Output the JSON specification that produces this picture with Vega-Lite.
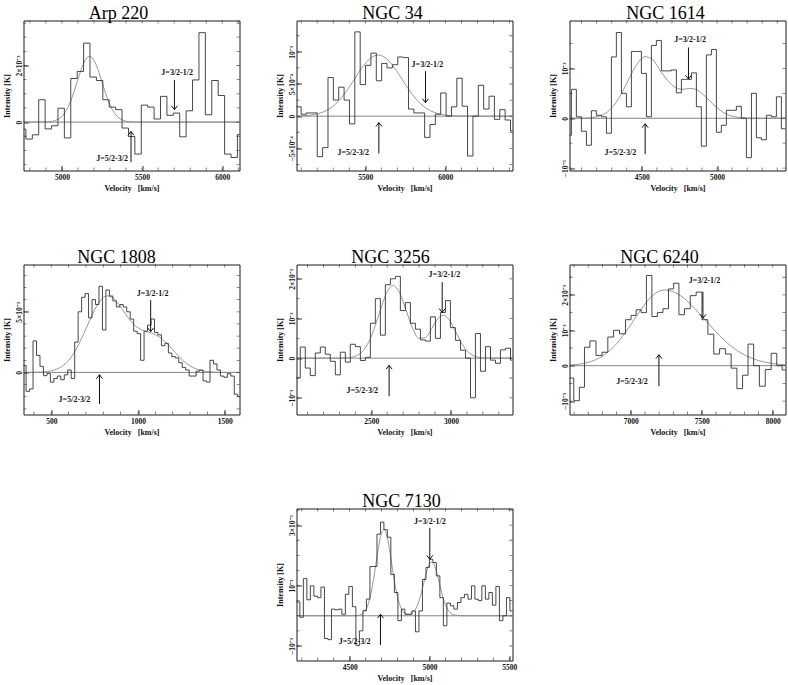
{
"$schema": "https://vega.github.io/schema/vega-lite/v6.json",
"background": "white",
"padding": {"left": 2.5, "top": 3.5, "right": 2, "bottom": 0},
"bounds": "flush",
"columns": 3,
"spacing": {"row": 94, "column": 57},
"datasets": {
"xticks": [
{"galaxy":"Arp 220","v":4800},{"galaxy":"Arp 220","v":4900},{"galaxy":"Arp 220","v":5000},{"galaxy":"Arp 220","v":5100},{"galaxy":"Arp 220","v":5200},{"galaxy":"Arp 220","v":5300},{"galaxy":"Arp 220","v":5400},{"galaxy":"Arp 220","v":5500},{"galaxy":"Arp 220","v":5600},{"galaxy":"Arp 220","v":5700},{"galaxy":"Arp 220","v":5800},{"galaxy":"Arp 220","v":5900},{"galaxy":"Arp 220","v":6000},{"galaxy":"Arp 220","v":6100},
{"galaxy":"NGC 34","v":5100},{"galaxy":"NGC 34","v":5200},{"galaxy":"NGC 34","v":5300},{"galaxy":"NGC 34","v":5400},{"galaxy":"NGC 34","v":5500},{"galaxy":"NGC 34","v":5600},{"galaxy":"NGC 34","v":5700},{"galaxy":"NGC 34","v":5800},{"galaxy":"NGC 34","v":5900},{"galaxy":"NGC 34","v":6000},{"galaxy":"NGC 34","v":6100},{"galaxy":"NGC 34","v":6200},{"galaxy":"NGC 34","v":6300},{"galaxy":"NGC 34","v":6400},
{"galaxy":"NGC 1614","v":4100},{"galaxy":"NGC 1614","v":4200},{"galaxy":"NGC 1614","v":4300},{"galaxy":"NGC 1614","v":4400},{"galaxy":"NGC 1614","v":4500},{"galaxy":"NGC 1614","v":4600},{"galaxy":"NGC 1614","v":4700},{"galaxy":"NGC 1614","v":4800},{"galaxy":"NGC 1614","v":4900},{"galaxy":"NGC 1614","v":5000},{"galaxy":"NGC 1614","v":5100},{"galaxy":"NGC 1614","v":5200},{"galaxy":"NGC 1614","v":5300},{"galaxy":"NGC 1614","v":5400},
{"galaxy":"NGC 1808","v":400},{"galaxy":"NGC 1808","v":500},{"galaxy":"NGC 1808","v":600},{"galaxy":"NGC 1808","v":700},{"galaxy":"NGC 1808","v":800},{"galaxy":"NGC 1808","v":900},{"galaxy":"NGC 1808","v":1000},{"galaxy":"NGC 1808","v":1100},{"galaxy":"NGC 1808","v":1200},{"galaxy":"NGC 1808","v":1300},{"galaxy":"NGC 1808","v":1400},{"galaxy":"NGC 1808","v":1500},
{"galaxy":"NGC 3256","v":2100},{"galaxy":"NGC 3256","v":2200},{"galaxy":"NGC 3256","v":2300},{"galaxy":"NGC 3256","v":2400},{"galaxy":"NGC 3256","v":2500},{"galaxy":"NGC 3256","v":2600},{"galaxy":"NGC 3256","v":2700},{"galaxy":"NGC 3256","v":2800},{"galaxy":"NGC 3256","v":2900},{"galaxy":"NGC 3256","v":3000},{"galaxy":"NGC 3256","v":3100},{"galaxy":"NGC 3256","v":3200},{"galaxy":"NGC 3256","v":3300},
{"galaxy":"NGC 6240","v":6600},{"galaxy":"NGC 6240","v":6700},{"galaxy":"NGC 6240","v":6800},{"galaxy":"NGC 6240","v":6900},{"galaxy":"NGC 6240","v":7000},{"galaxy":"NGC 6240","v":7100},{"galaxy":"NGC 6240","v":7200},{"galaxy":"NGC 6240","v":7300},{"galaxy":"NGC 6240","v":7400},{"galaxy":"NGC 6240","v":7500},{"galaxy":"NGC 6240","v":7600},{"galaxy":"NGC 6240","v":7700},{"galaxy":"NGC 6240","v":7800},{"galaxy":"NGC 6240","v":7900},{"galaxy":"NGC 6240","v":8000},
{"galaxy":"NGC 7130","v":4200},{"galaxy":"NGC 7130","v":4300},{"galaxy":"NGC 7130","v":4400},{"galaxy":"NGC 7130","v":4500},{"galaxy":"NGC 7130","v":4600},{"galaxy":"NGC 7130","v":4700},{"galaxy":"NGC 7130","v":4800},{"galaxy":"NGC 7130","v":4900},{"galaxy":"NGC 7130","v":5000},{"galaxy":"NGC 7130","v":5100},{"galaxy":"NGC 7130","v":5200},{"galaxy":"NGC 7130","v":5300},{"galaxy":"NGC 7130","v":5400},{"galaxy":"NGC 7130","v":5500}
],
"yticks": [
{"galaxy":"Arp 220","T":-1.5},{"galaxy":"Arp 220","T":-1},{"galaxy":"Arp 220","T":-0.5},{"galaxy":"Arp 220","T":0},{"galaxy":"Arp 220","T":0.5},{"galaxy":"Arp 220","T":1},{"galaxy":"Arp 220","T":1.5},{"galaxy":"Arp 220","T":2},{"galaxy":"Arp 220","T":2.5},{"galaxy":"Arp 220","T":3},{"galaxy":"Arp 220","T":3.5},
{"galaxy":"NGC 34","T":-0.75},{"galaxy":"NGC 34","T":-0.5},{"galaxy":"NGC 34","T":-0.25},{"galaxy":"NGC 34","T":0},{"galaxy":"NGC 34","T":0.25},{"galaxy":"NGC 34","T":0.5},{"galaxy":"NGC 34","T":0.75},{"galaxy":"NGC 34","T":1},{"galaxy":"NGC 34","T":1.25},
{"galaxy":"NGC 1614","T":-1},{"galaxy":"NGC 1614","T":-0.5},{"galaxy":"NGC 1614","T":0},{"galaxy":"NGC 1614","T":0.5},{"galaxy":"NGC 1614","T":1},{"galaxy":"NGC 1614","T":1.5},
{"galaxy":"NGC 1808","T":-3},{"galaxy":"NGC 1808","T":-2},{"galaxy":"NGC 1808","T":-1},{"galaxy":"NGC 1808","T":0},{"galaxy":"NGC 1808","T":1},{"galaxy":"NGC 1808","T":2},{"galaxy":"NGC 1808","T":3},{"galaxy":"NGC 1808","T":4},{"galaxy":"NGC 1808","T":5},{"galaxy":"NGC 1808","T":6},{"galaxy":"NGC 1808","T":7},{"galaxy":"NGC 1808","T":8},
{"galaxy":"NGC 3256","T":-1},{"galaxy":"NGC 3256","T":-0.5},{"galaxy":"NGC 3256","T":0},{"galaxy":"NGC 3256","T":0.5},{"galaxy":"NGC 3256","T":1},{"galaxy":"NGC 3256","T":1.5},{"galaxy":"NGC 3256","T":2},
{"galaxy":"NGC 6240","T":-1},{"galaxy":"NGC 6240","T":-0.5},{"galaxy":"NGC 6240","T":0},{"galaxy":"NGC 6240","T":0.5},{"galaxy":"NGC 6240","T":1},{"galaxy":"NGC 6240","T":1.5},{"galaxy":"NGC 6240","T":2},{"galaxy":"NGC 6240","T":2.5},
{"galaxy":"NGC 7130","T":-1},{"galaxy":"NGC 7130","T":-0.5},{"galaxy":"NGC 7130","T":0},{"galaxy":"NGC 7130","T":0.5},{"galaxy":"NGC 7130","T":1},{"galaxy":"NGC 7130","T":1.5},{"galaxy":"NGC 7130","T":2},{"galaxy":"NGC 7130","T":2.5},{"galaxy":"NGC 7130","T":3},{"galaxy":"NGC 7130","T":3.5}
],
"transitions": [
{"galaxy":"Arp 220","transition":"J=3/2-1/2","v":5702,"tip":0.44,"tail":1.49,"lv":5719,"lT":1.75},
{"galaxy":"Arp 220","transition":"J=5/2-3/2","v":5431,"tip":-0.33,"tail":-1.42,"lv":5412,"lT":-1.31},
{"galaxy":"NGC 34","transition":"J=3/2-1/2","v":5876,"tip":0.21,"tail":0.70,"lv":5888,"lT":0.80},
{"galaxy":"NGC 34","transition":"J=5/2-3/2","v":5585,"tip":-0.10,"tail":-0.58,"lv":5524,"lT":-0.58},
{"galaxy":"NGC 1614","transition":"J=3/2-1/2","v":4810,"tip":0.785,"tail":1.42,"lv":4821,"lT":1.56},
{"galaxy":"NGC 1614","transition":"J=5/2-3/2","v":4522,"tip":-0.11,"tail":-0.72,"lv":4462,"lT":-0.70},
{"galaxy":"NGC 1808","transition":"J=3/2-1/2","v":1073,"tip":3.36,"tail":5.96,"lv":1084,"lT":6.5},
{"galaxy":"NGC 1808","transition":"J=5/2-3/2","v":778,"tip":-0.19,"tail":-2.6,"lv":725,"lT":-2.3},
{"galaxy":"NGC 3256","transition":"J=3/2-1/2","v":2945,"tip":1.15,"tail":1.92,"lv":2959,"lT":2.1},
{"galaxy":"NGC 3256","transition":"J=5/2-3/2","v":2612,"tip":-0.18,"tail":-0.96,"lv":2543,"lT":-0.83},
{"galaxy":"NGC 6240","transition":"J=3/2-1/2","v":7508,"tip":1.34,"tail":2.09,"lv":7519,"lT":2.38},
{"galaxy":"NGC 6240","transition":"J=5/2-3/2","v":7198,"tip":0.31,"tail":-0.58,"lv":7120,"lT":-0.46},
{"galaxy":"NGC 7130","transition":"J=3/2-1/2","v":5002,"tip":1.87,"tail":2.91,"lv":5002,"lT":3.10},
{"galaxy":"NGC 7130","transition":"J=5/2-3/2","v":4693,"tip":0.05,"tail":-0.97,"lv":4630,"lT":-0.86}
],
"arp220_spec": [
{"v":4755,"T":-0.25},{"v":4795,"T":-0.60},{"v":4835,"T":-0.45},{"v":4875,"T":0.79},{"v":4915,"T":-0.24},{"v":4955,"T":-0.13},{"v":4995,"T":0.49},{"v":5035,"T":-0.56},{"v":5075,"T":1.54},{"v":5115,"T":1.79},{"v":5155,"T":2.79},{"v":5195,"T":1.59},{"v":5235,"T":1.47},{"v":5275,"T":0.79},{"v":5315,"T":0.53},{"v":5355,"T":0.44},{"v":5395,"T":-0.21},{"v":5435,"T":-0.51},{"v":5475,"T":-1.13},{"v":5515,"T":0.60},{"v":5555,"T":0.53},{"v":5595,"T":0.11},{"v":5635,"T":0.91},{"v":5675,"T":0.24},{"v":5715,"T":0.32},{"v":5755,"T":-0.52},{"v":5795,"T":0.40},{"v":5835,"T":1.49},{"v":5875,"T":3.16},{"v":5915,"T":0.26},{"v":5955,"T":1.47},{"v":5995,"T":0.94},{"v":6035,"T":-1.13},{"v":6075,"T":-1.25},{"v":6115,"T":-0.44}
],
"arp220_fit": [
{"v":4760,"T":0},{"v":4900,"T":0.005},{"v":4950,"T":0.04},{"v":4975,"T":0.10},{"v":5000,"T":0.20},{"v":5025,"T":0.39},{"v":5050,"T":0.68},{"v":5075,"T":1.07},{"v":5100,"T":1.52},{"v":5125,"T":1.93},{"v":5150,"T":2.23},{"v":5172,"T":2.32},{"v":5200,"T":2.18},{"v":5225,"T":1.85},{"v":5250,"T":1.41},{"v":5275,"T":0.97},{"v":5300,"T":0.60},{"v":5325,"T":0.34},{"v":5350,"T":0.17},{"v":5375,"T":0.08},{"v":5400,"T":0.03},{"v":5450,"T":0.005},{"v":5500,"T":0},{"v":6108,"T":0}
],
"ngc34_spec": [
{"v":5050,"T":0.145},{"v":5083,"T":0.145},{"v":5117,"T":0.03},{"v":5150,"T":0.05},{"v":5184,"T":0.05},{"v":5217,"T":-0.63},{"v":5251,"T":-0.49},{"v":5284,"T":0.60},{"v":5318,"T":0.25},{"v":5351,"T":0.45},{"v":5385,"T":0.25},{"v":5418,"T":-0.12},{"v":5452,"T":1.31},{"v":5485,"T":0.49},{"v":5519,"T":0.79},{"v":5552,"T":0.98},{"v":5586,"T":0.55},{"v":5619,"T":0.82},{"v":5653,"T":0.75},{"v":5686,"T":0.80},{"v":5720,"T":0.92},{"v":5753,"T":0.91},{"v":5787,"T":0.11},{"v":5820,"T":0.05},{"v":5854,"T":0.05},{"v":5887,"T":-0.33},{"v":5921,"T":-0.13},{"v":5954,"T":0.03},{"v":5988,"T":0.36},{"v":6021,"T":0.0},{"v":6055,"T":0.145},{"v":6088,"T":0.59},{"v":6122,"T":0.155},{"v":6155,"T":-0.62},{"v":6189,"T":0.0},{"v":6222,"T":0.48},{"v":6256,"T":0.11},{"v":6289,"T":0.31},{"v":6323,"T":-0.05},{"v":6356,"T":0.10},{"v":6390,"T":-0.06},{"v":6423,"T":-0.23},{"v":6457,"T":-0.23}
],
"ngc34_fit": [
{"v":5071,"T":0.002},{"v":5131,"T":0.009},{"v":5181,"T":0.025},{"v":5231,"T":0.058},{"v":5281,"T":0.122},{"v":5331,"T":0.228},{"v":5381,"T":0.381},{"v":5431,"T":0.568},{"v":5481,"T":0.756},{"v":5531,"T":0.897},{"v":5581,"T":0.95},{"v":5631,"T":0.897},{"v":5681,"T":0.756},{"v":5731,"T":0.568},{"v":5781,"T":0.381},{"v":5831,"T":0.228},{"v":5881,"T":0.122},{"v":5931,"T":0.058},{"v":5981,"T":0.025},{"v":6031,"T":0.009},{"v":6081,"T":0.003},{"v":6200,"T":0},{"v":6419,"T":0}
],
"ngc1614_spec": [
{"v":4015,"T":-0.34},{"v":4048,"T":0.58},{"v":4081,"T":0.03},{"v":4115,"T":-0.26},{"v":4148,"T":-0.54},{"v":4181,"T":0.15},{"v":4214,"T":0.06},{"v":4248,"T":0.03},{"v":4281,"T":-0.30},{"v":4314,"T":1.23},{"v":4347,"T":1.72},{"v":4381,"T":0.50},{"v":4414,"T":0.23},{"v":4447,"T":1.34},{"v":4480,"T":1.34},{"v":4514,"T":0.90},{"v":4547,"T":0.03},{"v":4580,"T":1.46},{"v":4613,"T":1.56},{"v":4647,"T":0.95},{"v":4680,"T":0.95},{"v":4713,"T":0.97},{"v":4746,"T":0.51},{"v":4780,"T":0.78},{"v":4813,"T":0.78},{"v":4846,"T":0.91},{"v":4879,"T":0.23},{"v":4912,"T":-0.56},{"v":4946,"T":1.27},{"v":4979,"T":1.38},{"v":5012,"T":-0.28},{"v":5045,"T":-0.14},{"v":5079,"T":0.16},{"v":5112,"T":0.16},{"v":5145,"T":0.24},{"v":5178,"T":0.0},{"v":5212,"T":-0.79},{"v":5245,"T":0.50},{"v":5278,"T":-0.39},{"v":5311,"T":-0.43},{"v":5345,"T":0.06},{"v":5378,"T":0.03},{"v":5411,"T":0.43},{"v":5444,"T":-0.21},{"v":5478,"T":0.40}
],
"ngc1614_fit": [
{"v":4019,"T":0},{"v":4121,"T":0.004},{"v":4171,"T":0.015},{"v":4221,"T":0.048},{"v":4271,"T":0.128},{"v":4321,"T":0.284},{"v":4371,"T":0.530},{"v":4421,"T":0.832},{"v":4471,"T":1.098},{"v":4521,"T":1.234},{"v":4571,"T":1.18},{"v":4621,"T":0.96},{"v":4671,"T":0.76},{"v":4721,"T":0.62},{"v":4771,"T":0.58},{"v":4821,"T":0.60},{"v":4871,"T":0.56},{"v":4921,"T":0.44},{"v":4971,"T":0.29},{"v":5021,"T":0.16},{"v":5071,"T":0.07},{"v":5121,"T":0.025},{"v":5171,"T":0.008},{"v":5221,"T":0.002},{"v":5455,"T":0}
],
"ngc1808_spec": [
{"v":325,"T":0.57},{"v":345,"T":0.57},{"v":365,"T":-1.56},{"v":385,"T":-1.36},{"v":405,"T":2.6},{"v":425,"T":1.4},{"v":445,"T":0.5},{"v":465,"T":-0.27},{"v":485,"T":-0.1},{"v":505,"T":-0.8},{"v":525,"T":-0.5},{"v":545,"T":-0.3},{"v":565,"T":-0.6},{"v":585,"T":-0.2},{"v":605,"T":0.2},{"v":625,"T":-0.5},{"v":645,"T":2.5},{"v":665,"T":5.0},{"v":685,"T":6.2},{"v":705,"T":6.5},{"v":725,"T":4.5},{"v":745,"T":6.0},{"v":765,"T":5.6},{"v":785,"T":7.1},{"v":805,"T":3.5},{"v":825,"T":6.8},{"v":845,"T":6.3},{"v":865,"T":5.9},{"v":885,"T":5.4},{"v":905,"T":5.6},{"v":925,"T":5.4},{"v":945,"T":5.0},{"v":965,"T":4.4},{"v":985,"T":3.4},{"v":1005,"T":3.2},{"v":1025,"T":1.0},{"v":1045,"T":3.4},{"v":1065,"T":3.9},{"v":1085,"T":4.4},{"v":1105,"T":3.3},{"v":1125,"T":3.1},{"v":1145,"T":2.2},{"v":1165,"T":2.4},{"v":1185,"T":1.6},{"v":1205,"T":1.3},{"v":1225,"T":1.2},{"v":1245,"T":0.8},{"v":1265,"T":0.4},{"v":1285,"T":0.2},{"v":1305,"T":-0.3},{"v":1325,"T":-0.3},{"v":1345,"T":0.1},{"v":1365,"T":0.2},{"v":1385,"T":-0.7},{"v":1405,"T":-0.8},{"v":1425,"T":1.0},{"v":1445,"T":0.7},{"v":1465,"T":0.2},{"v":1485,"T":-0.3},{"v":1505,"T":-0.4},{"v":1525,"T":-0.1},{"v":1545,"T":-0.3},{"v":1565,"T":-1.8},{"v":1585,"T":-2.0},{"v":1605,"T":-2.0}
],
"ngc1808_fit": [
{"v":340,"T":0.001},{"v":420,"T":0.015},{"v":460,"T":0.046},{"v":500,"T":0.13},{"v":540,"T":0.32},{"v":580,"T":0.70},{"v":620,"T":1.37},{"v":660,"T":2.36},{"v":700,"T":3.60},{"v":740,"T":4.87},{"v":780,"T":5.88},{"v":820,"T":6.31},{"v":860,"T":6.10},{"v":900,"T":5.40},{"v":940,"T":4.57},{"v":980,"T":3.90},{"v":1020,"T":3.52},{"v":1060,"T":3.32},{"v":1100,"T":3.12},{"v":1140,"T":2.75},{"v":1180,"T":2.20},{"v":1220,"T":1.56},{"v":1260,"T":0.97},{"v":1300,"T":0.54},{"v":1340,"T":0.26},{"v":1380,"T":0.11},{"v":1420,"T":0.04},{"v":1460,"T":0.013},{"v":1500,"T":0.003},{"v":1585,"T":0}
],
"ngc3256_spec": [
{"v":2008,"T":-0.5},{"v":2039,"T":-0.5},{"v":2070,"T":0.28},{"v":2102,"T":-0.25},{"v":2133,"T":-0.44},{"v":2165,"T":0.13},{"v":2196,"T":0.28},{"v":2227,"T":0.1},{"v":2259,"T":-0.08},{"v":2290,"T":-0.42},{"v":2322,"T":0.15},{"v":2353,"T":-0.1},{"v":2384,"T":0.35},{"v":2416,"T":0.29},{"v":2447,"T":-0.06},{"v":2479,"T":0.02},{"v":2510,"T":0.88},{"v":2541,"T":1.50},{"v":2573,"T":0.58},{"v":2604,"T":1.85},{"v":2636,"T":2.0},{"v":2667,"T":2.06},{"v":2698,"T":1.2},{"v":2730,"T":1.4},{"v":2761,"T":0.88},{"v":2793,"T":0.73},{"v":2824,"T":0.46},{"v":2855,"T":0.43},{"v":2887,"T":1.04},{"v":2918,"T":0.5},{"v":2950,"T":1.15},{"v":2981,"T":1.45},{"v":3012,"T":0.77},{"v":3044,"T":0.45},{"v":3075,"T":0.2},{"v":3107,"T":0.0},{"v":3138,"T":-1.0},{"v":3169,"T":0.62},{"v":3201,"T":-0.33},{"v":3232,"T":0.29},{"v":3264,"T":-0.05},{"v":3295,"T":-0.13},{"v":3326,"T":0.21},{"v":3358,"T":0.25},{"v":3389,"T":-0.05}
],
"ngc3256_fit": [
{"v":2031,"T":0},{"v":2300,"T":0.001},{"v":2350,"T":0.009},{"v":2400,"T":0.049},{"v":2450,"T":0.191},{"v":2500,"T":0.545},{"v":2550,"T":1.122},{"v":2600,"T":1.675},{"v":2637,"T":1.83},{"v":2680,"T":1.63},{"v":2720,"T":1.19},{"v":2760,"T":0.745},{"v":2800,"T":0.50},{"v":2840,"T":0.52},{"v":2880,"T":0.75},{"v":2920,"T":1.005},{"v":2952,"T":1.08},{"v":2990,"T":0.962},{"v":3030,"T":0.663},{"v":3070,"T":0.354},{"v":3110,"T":0.146},{"v":3150,"T":0.047},{"v":3190,"T":0.012},{"v":3230,"T":0.002},{"v":3386,"T":0}
],
"ngc6240_spec": [
{"v":6540,"T":-0.35},{"v":6577,"T":-0.35},{"v":6619,"T":-0.99},{"v":6656,"T":-0.61},{"v":6691,"T":0.52},{"v":6732,"T":0.70},{"v":6777,"T":0.29},{"v":6818,"T":0.38},{"v":6858,"T":0.81},{"v":6899,"T":1.0},{"v":6942,"T":0.90},{"v":6983,"T":1.30},{"v":7020,"T":1.42},{"v":7055,"T":1.58},{"v":7091,"T":1.50},{"v":7129,"T":2.55},{"v":7168,"T":1.39},{"v":7206,"T":1.50},{"v":7247,"T":1.61},{"v":7284,"T":2.17},{"v":7320,"T":2.33},{"v":7358,"T":1.44},{"v":7398,"T":1.61},{"v":7440,"T":1.98},{"v":7481,"T":2.08},{"v":7522,"T":1.30},{"v":7564,"T":0.89},{"v":7605,"T":0.33},{"v":7646,"T":0.48},{"v":7687,"T":0.33},{"v":7727,"T":-0.07},{"v":7768,"T":-0.65},{"v":7807,"T":-0.27},{"v":7845,"T":0.61},{"v":7886,"T":0.0},{"v":7926,"T":-0.58},{"v":7969,"T":-0.11},{"v":8009,"T":0.35},{"v":8048,"T":0.0},{"v":8085,"T":-0.12},{"v":8125,"T":-0.12}
],
"ngc6240_fit": [
{"v":6568,"T":0.017},{"v":6650,"T":0.051},{"v":6700,"T":0.094},{"v":6750,"T":0.163},{"v":6800,"T":0.269},{"v":6850,"T":0.420},{"v":6900,"T":0.622},{"v":6950,"T":0.872},{"v":7000,"T":1.159},{"v":7050,"T":1.46},{"v":7100,"T":1.74},{"v":7150,"T":1.97},{"v":7200,"T":2.11},{"v":7238,"T":2.14},{"v":7300,"T":2.09},{"v":7350,"T":1.98},{"v":7400,"T":1.82},{"v":7450,"T":1.62},{"v":7500,"T":1.40},{"v":7550,"T":1.18},{"v":7600,"T":0.958},{"v":7650,"T":0.752},{"v":7700,"T":0.575},{"v":7750,"T":0.426},{"v":7800,"T":0.306},{"v":7850,"T":0.213},{"v":7900,"T":0.144},{"v":7950,"T":0.094},{"v":8000,"T":0.060},{"v":8090,"T":0.025}
],
"ngc7130_spec": [
{"v":4155,"T":0.46},{"v":4177,"T":0.46},{"v":4199,"T":-0.05},{"v":4221,"T":1.23},{"v":4243,"T":0.53},{"v":4265,"T":0.99},{"v":4287,"T":0.65},{"v":4309,"T":0.6},{"v":4331,"T":0.95},{"v":4353,"T":-0.75},{"v":4375,"T":-0.79},{"v":4397,"T":0.22},{"v":4419,"T":0.20},{"v":4440,"T":0.22},{"v":4462,"T":0.05},{"v":4484,"T":0.71},{"v":4506,"T":0.97},{"v":4528,"T":0.3},{"v":4550,"T":-0.98},{"v":4572,"T":-0.50},{"v":4594,"T":0.17},{"v":4616,"T":0.55},{"v":4638,"T":1.63},{"v":4660,"T":1.63},{"v":4682,"T":2.7},{"v":4704,"T":3.1},{"v":4725,"T":2.85},{"v":4747,"T":2.6},{"v":4769,"T":1.37},{"v":4791,"T":0.77},{"v":4813,"T":-0.16},{"v":4835,"T":0.22},{"v":4857,"T":0.05},{"v":4879,"T":0.05},{"v":4901,"T":0.16},{"v":4923,"T":-0.53},{"v":4945,"T":0.16},{"v":4967,"T":1.2},{"v":4989,"T":1.6},{"v":5010,"T":1.87},{"v":5032,"T":1.76},{"v":5054,"T":1.32},{"v":5076,"T":0.6},{"v":5098,"T":-0.33},{"v":5120,"T":0.42},{"v":5142,"T":0.33},{"v":5164,"T":0.22},{"v":5186,"T":0.44},{"v":5208,"T":0.6},{"v":5230,"T":0.71},{"v":5252,"T":0.55},{"v":5274,"T":0.99},{"v":5295,"T":0.55},{"v":5317,"T":0.5},{"v":5339,"T":0.99},{"v":5361,"T":0.55},{"v":5383,"T":0.77},{"v":5405,"T":0.35},{"v":5427,"T":0.97},{"v":5449,"T":-0.16},{"v":5471,"T":0.0},{"v":5493,"T":0.6},{"v":5515,"T":0.16},{"v":5537,"T":0.16}
],
"ngc7130_fit": [
{"v":4167,"T":0},{"v":4500,"T":0},{"v":4534,"T":0.003},{"v":4554,"T":0.014},{"v":4574,"T":0.048},{"v":4594,"T":0.142},{"v":4614,"T":0.357},{"v":4634,"T":0.755},{"v":4654,"T":1.35},{"v":4674,"T":2.05},{"v":4694,"T":2.63},{"v":4714,"T":2.86},{"v":4734,"T":2.63},{"v":4754,"T":2.05},{"v":4774,"T":1.35},{"v":4794,"T":0.755},{"v":4814,"T":0.357},{"v":4834,"T":0.142},{"v":4854,"T":0.05},{"v":4873,"T":0.044},{"v":4893,"T":0.092},{"v":4913,"T":0.222},{"v":4933,"T":0.47},{"v":4953,"T":0.84},{"v":4973,"T":1.28},{"v":4993,"T":1.64},{"v":5013,"T":1.78},{"v":5033,"T":1.64},{"v":5053,"T":1.28},{"v":5073,"T":0.84},{"v":5093,"T":0.47},{"v":5113,"T":0.222},{"v":5133,"T":0.089},{"v":5153,"T":0.030},{"v":5173,"T":0.009},{"v":5193,"T":0.002},{"v":5250,"T":0},{"v":5520,"T":0}
]
},
"concat": [
{
"title": {"text": "Arp 220", "dx": -13}, "width": 216, "height": 150,
"layer": [
{"data": {"values": [{"T": 0}]}, "mark": {"type": "rule", "color": "#666", "strokeWidth": 0.8}, "encoding": {"y": {"field": "T", "type": "quantitative"}}},
{"data": {"name": "arp220_fit"}, "mark": {"type": "line", "interpolate": "monotone", "color": "#8c8c8c", "strokeWidth": 0.9, "clip": true}, "encoding": {"x": {"field": "v", "type": "quantitative"}, "y": {"field": "T", "type": "quantitative"}}},
{"data": {"name": "arp220_spec"}, "mark": {"type": "line", "interpolate": "step", "color": "#333", "strokeWidth": 0.9, "clip": true},
 "encoding": {
  "x": {"field": "v", "type": "quantitative", "scale": {"domain": [4760, 6108], "nice": false, "zero": false}, "axis": {"title": "Velocity \u00a0 [km/s]", "values": [5000,5500,6000], "labelExpr": "'' + datum.value"}},
  "y": {"field": "T", "type": "quantitative", "scale": {"domain": [-1.71, 3.59], "nice": false, "zero": false}, "axis": {"title": "Intensity [K]", "values": [0,2], "labelExpr": "datum.value == 0 ? '0' : (datum.value < 0 ? '−' : '') + (abs(datum.value) == 1 ? '10⁻³' : abs(datum.value) == 0.5 ? '5×10⁻⁴' : abs(datum.value) + '×10⁻³')"}}}},
{"data": {"name": "xticks"}, "transform": [{"filter": "datum.galaxy == 'Arp 220'"}], "mark": {"type": "tick", "orient": "vertical", "size": 6, "thickness": 0.8, "color": "#222", "clip": true}, "encoding": {"x": {"field": "v", "type": "quantitative"}, "y": {"datum": -1.71}}},
{"data": {"name": "xticks"}, "transform": [{"filter": "datum.galaxy == 'Arp 220'"}], "mark": {"type": "tick", "orient": "vertical", "size": 6, "thickness": 0.8, "color": "#222", "clip": true}, "encoding": {"x": {"field": "v", "type": "quantitative"}, "y": {"datum": 3.59}}},
{"data": {"name": "yticks"}, "transform": [{"filter": "datum.galaxy == 'Arp 220'"}], "mark": {"type": "tick", "orient": "horizontal", "size": 6, "thickness": 0.8, "color": "#222", "clip": true}, "encoding": {"y": {"field": "T", "type": "quantitative"}, "x": {"datum": 4760}}},
{"data": {"name": "yticks"}, "transform": [{"filter": "datum.galaxy == 'Arp 220'"}], "mark": {"type": "tick", "orient": "horizontal", "size": 6, "thickness": 0.8, "color": "#222", "clip": true}, "encoding": {"y": {"field": "T", "type": "quantitative"}, "x": {"datum": 6108}}},
{"data": {"name": "transitions"}, "transform": [{"filter": "datum.galaxy == 'Arp 220'"}], "mark": {"type": "rule", "color": "#111", "strokeWidth": 1}, "encoding": {"x": {"field": "v", "type": "quantitative"}, "y": {"field": "tip", "type": "quantitative"}, "y2": {"field": "tail"}}},
{"data": {"name": "transitions"}, "transform": [{"filter": "datum.galaxy == 'Arp 220'"}], "mark": {"type": "point", "filled": false, "stroke": "#111", "strokeWidth": 1, "size": 36, "opacity": 1}, "encoding": {"x": {"field": "v", "type": "quantitative"}, "y": {"field": "tip", "type": "quantitative"}, "shape": {"condition": {"test": "datum.transition == 'J=3/2-1/2'", "value": "M-1,-1.3L0,0L1,-1.3"}, "value": "M-1,1.3L0,0L1,1.3"}}},
{"data": {"name": "transitions"}, "transform": [{"filter": "datum.galaxy == 'Arp 220'"}], "mark": {"type": "text", "font": "Liberation Serif", "fontSize": 8, "fontWeight": "bold", "color": "#111", "baseline": "middle", "align": {"expr": "datum.transition == 'J=5/2-3/2' ? 'right' : 'center'"}}, "encoding": {"x": {"field": "lv", "type": "quantitative"}, "y": {"field": "lT", "type": "quantitative"}, "text": {"field": "transition"}}}
]
},
{
"title": {"text": "NGC 34", "dx": -12}, "width": 216, "height": 150,
"layer": [
{"data": {"values": [{"T": 0}]}, "mark": {"type": "rule", "color": "#666", "strokeWidth": 0.8}, "encoding": {"y": {"field": "T", "type": "quantitative"}}},
{"data": {"name": "ngc34_fit"}, "mark": {"type": "line", "interpolate": "monotone", "color": "#8c8c8c", "strokeWidth": 0.9, "clip": true}, "encoding": {"x": {"field": "v", "type": "quantitative"}, "y": {"field": "T", "type": "quantitative"}}},
{"data": {"name": "ngc34_spec"}, "mark": {"type": "line", "interpolate": "step", "color": "#333", "strokeWidth": 0.9, "clip": true},
 "encoding": {
  "x": {"field": "v", "type": "quantitative", "scale": {"domain": [5071, 6419], "nice": false, "zero": false}, "axis": {"title": "Velocity \u00a0 [km/s]", "values": [5500,6000], "labelExpr": "'' + datum.value"}},
  "y": {"field": "T", "type": "quantitative", "scale": {"domain": [-0.845, 1.487], "nice": false, "zero": false}, "axis": {"title": "Intensity [K]", "values": [-0.5,0,0.5,1], "labelExpr": "datum.value == 0 ? '0' : (datum.value < 0 ? '−' : '') + (abs(datum.value) == 1 ? '10⁻³' : abs(datum.value) == 0.5 ? '5×10⁻⁴' : abs(datum.value) + '×10⁻³')"}}}},
{"data": {"name": "xticks"}, "transform": [{"filter": "datum.galaxy == 'NGC 34'"}], "mark": {"type": "tick", "orient": "vertical", "size": 6, "thickness": 0.8, "color": "#222", "clip": true}, "encoding": {"x": {"field": "v", "type": "quantitative"}, "y": {"datum": -0.845}}},
{"data": {"name": "xticks"}, "transform": [{"filter": "datum.galaxy == 'NGC 34'"}], "mark": {"type": "tick", "orient": "vertical", "size": 6, "thickness": 0.8, "color": "#222", "clip": true}, "encoding": {"x": {"field": "v", "type": "quantitative"}, "y": {"datum": 1.487}}},
{"data": {"name": "yticks"}, "transform": [{"filter": "datum.galaxy == 'NGC 34'"}], "mark": {"type": "tick", "orient": "horizontal", "size": 6, "thickness": 0.8, "color": "#222", "clip": true}, "encoding": {"y": {"field": "T", "type": "quantitative"}, "x": {"datum": 5071}}},
{"data": {"name": "yticks"}, "transform": [{"filter": "datum.galaxy == 'NGC 34'"}], "mark": {"type": "tick", "orient": "horizontal", "size": 6, "thickness": 0.8, "color": "#222", "clip": true}, "encoding": {"y": {"field": "T", "type": "quantitative"}, "x": {"datum": 6419}}},
{"data": {"name": "transitions"}, "transform": [{"filter": "datum.galaxy == 'NGC 34'"}], "mark": {"type": "rule", "color": "#111", "strokeWidth": 1}, "encoding": {"x": {"field": "v", "type": "quantitative"}, "y": {"field": "tip", "type": "quantitative"}, "y2": {"field": "tail"}}},
{"data": {"name": "transitions"}, "transform": [{"filter": "datum.galaxy == 'NGC 34'"}], "mark": {"type": "point", "filled": false, "stroke": "#111", "strokeWidth": 1, "size": 36, "opacity": 1}, "encoding": {"x": {"field": "v", "type": "quantitative"}, "y": {"field": "tip", "type": "quantitative"}, "shape": {"condition": {"test": "datum.transition == 'J=3/2-1/2'", "value": "M-1,-1.3L0,0L1,-1.3"}, "value": "M-1,1.3L0,0L1,1.3"}}},
{"data": {"name": "transitions"}, "transform": [{"filter": "datum.galaxy == 'NGC 34'"}], "mark": {"type": "text", "font": "Liberation Serif", "fontSize": 8, "fontWeight": "bold", "color": "#111", "baseline": "middle", "align": {"expr": "datum.transition == 'J=5/2-3/2' ? 'right' : 'center'"}}, "encoding": {"x": {"field": "lv", "type": "quantitative"}, "y": {"field": "lT", "type": "quantitative"}, "text": {"field": "transition"}}}
]
},
{
"title": {"text": "NGC 1614", "dx": -12}, "width": 216, "height": 150,
"layer": [
{"data": {"values": [{"T": 0}]}, "mark": {"type": "rule", "color": "#666", "strokeWidth": 0.8}, "encoding": {"y": {"field": "T", "type": "quantitative"}}},
{"data": {"name": "ngc1614_fit"}, "mark": {"type": "line", "interpolate": "monotone", "color": "#8c8c8c", "strokeWidth": 0.9, "clip": true}, "encoding": {"x": {"field": "v", "type": "quantitative"}, "y": {"field": "T", "type": "quantitative"}}},
{"data": {"name": "ngc1614_spec"}, "mark": {"type": "line", "interpolate": "step", "color": "#333", "strokeWidth": 0.9, "clip": true},
 "encoding": {
  "x": {"field": "v", "type": "quantitative", "scale": {"domain": [4019, 5455], "nice": false, "zero": false}, "axis": {"title": "Velocity \u00a0 [km/s]", "values": [4500,5000], "labelExpr": "'' + datum.value"}},
  "y": {"field": "T", "type": "quantitative", "scale": {"domain": [-1.047, 1.96], "nice": false, "zero": false}, "axis": {"title": "Intensity [K]", "values": [-1,0,1], "labelExpr": "datum.value == 0 ? '0' : (datum.value < 0 ? '−' : '') + (abs(datum.value) == 1 ? '10⁻³' : abs(datum.value) == 0.5 ? '5×10⁻⁴' : abs(datum.value) + '×10⁻³')"}}}},
{"data": {"name": "xticks"}, "transform": [{"filter": "datum.galaxy == 'NGC 1614'"}], "mark": {"type": "tick", "orient": "vertical", "size": 6, "thickness": 0.8, "color": "#222", "clip": true}, "encoding": {"x": {"field": "v", "type": "quantitative"}, "y": {"datum": -1.047}}},
{"data": {"name": "xticks"}, "transform": [{"filter": "datum.galaxy == 'NGC 1614'"}], "mark": {"type": "tick", "orient": "vertical", "size": 6, "thickness": 0.8, "color": "#222", "clip": true}, "encoding": {"x": {"field": "v", "type": "quantitative"}, "y": {"datum": 1.96}}},
{"data": {"name": "yticks"}, "transform": [{"filter": "datum.galaxy == 'NGC 1614'"}], "mark": {"type": "tick", "orient": "horizontal", "size": 6, "thickness": 0.8, "color": "#222", "clip": true}, "encoding": {"y": {"field": "T", "type": "quantitative"}, "x": {"datum": 4019}}},
{"data": {"name": "yticks"}, "transform": [{"filter": "datum.galaxy == 'NGC 1614'"}], "mark": {"type": "tick", "orient": "horizontal", "size": 6, "thickness": 0.8, "color": "#222", "clip": true}, "encoding": {"y": {"field": "T", "type": "quantitative"}, "x": {"datum": 5455}}},
{"data": {"name": "transitions"}, "transform": [{"filter": "datum.galaxy == 'NGC 1614'"}], "mark": {"type": "rule", "color": "#111", "strokeWidth": 1}, "encoding": {"x": {"field": "v", "type": "quantitative"}, "y": {"field": "tip", "type": "quantitative"}, "y2": {"field": "tail"}}},
{"data": {"name": "transitions"}, "transform": [{"filter": "datum.galaxy == 'NGC 1614'"}], "mark": {"type": "point", "filled": false, "stroke": "#111", "strokeWidth": 1, "size": 36, "opacity": 1}, "encoding": {"x": {"field": "v", "type": "quantitative"}, "y": {"field": "tip", "type": "quantitative"}, "shape": {"condition": {"test": "datum.transition == 'J=3/2-1/2'", "value": "M-1,-1.3L0,0L1,-1.3"}, "value": "M-1,1.3L0,0L1,1.3"}}},
{"data": {"name": "transitions"}, "transform": [{"filter": "datum.galaxy == 'NGC 1614'"}], "mark": {"type": "text", "font": "Liberation Serif", "fontSize": 8, "fontWeight": "bold", "color": "#111", "baseline": "middle", "align": {"expr": "datum.transition == 'J=5/2-3/2' ? 'right' : 'center'"}}, "encoding": {"x": {"field": "lv", "type": "quantitative"}, "y": {"field": "lT", "type": "quantitative"}, "text": {"field": "transition"}}}
]
},
{
"title": {"text": "NGC 1808", "dx": -15}, "width": 216, "height": 150,
"layer": [
{"data": {"values": [{"T": 0}]}, "mark": {"type": "rule", "color": "#666", "strokeWidth": 0.8}, "encoding": {"y": {"field": "T", "type": "quantitative"}}},
{"data": {"name": "ngc1808_fit"}, "mark": {"type": "line", "interpolate": "monotone", "color": "#8c8c8c", "strokeWidth": 0.9, "clip": true}, "encoding": {"x": {"field": "v", "type": "quantitative"}, "y": {"field": "T", "type": "quantitative"}}},
{"data": {"name": "ngc1808_spec"}, "mark": {"type": "line", "interpolate": "step", "color": "#333", "strokeWidth": 0.9, "clip": true},
 "encoding": {
  "x": {"field": "v", "type": "quantitative", "scale": {"domain": [340, 1585], "nice": false, "zero": false}, "axis": {"title": "Velocity \u00a0 [km/s]", "values": [500,1000,1500], "labelExpr": "'' + datum.value"}},
  "y": {"field": "T", "type": "quantitative", "scale": {"domain": [-3.47, 8.9], "nice": false, "zero": false}, "axis": {"title": "Intensity [K]", "values": [0,5], "labelExpr": "datum.value == 0 ? '0' : (datum.value < 0 ? '−' : '') + (abs(datum.value) == 1 ? '10⁻³' : abs(datum.value) == 0.5 ? '5×10⁻⁴' : abs(datum.value) + '×10⁻³')"}}}},
{"data": {"name": "xticks"}, "transform": [{"filter": "datum.galaxy == 'NGC 1808'"}], "mark": {"type": "tick", "orient": "vertical", "size": 6, "thickness": 0.8, "color": "#222", "clip": true}, "encoding": {"x": {"field": "v", "type": "quantitative"}, "y": {"datum": -3.47}}},
{"data": {"name": "xticks"}, "transform": [{"filter": "datum.galaxy == 'NGC 1808'"}], "mark": {"type": "tick", "orient": "vertical", "size": 6, "thickness": 0.8, "color": "#222", "clip": true}, "encoding": {"x": {"field": "v", "type": "quantitative"}, "y": {"datum": 8.9}}},
{"data": {"name": "yticks"}, "transform": [{"filter": "datum.galaxy == 'NGC 1808'"}], "mark": {"type": "tick", "orient": "horizontal", "size": 6, "thickness": 0.8, "color": "#222", "clip": true}, "encoding": {"y": {"field": "T", "type": "quantitative"}, "x": {"datum": 340}}},
{"data": {"name": "yticks"}, "transform": [{"filter": "datum.galaxy == 'NGC 1808'"}], "mark": {"type": "tick", "orient": "horizontal", "size": 6, "thickness": 0.8, "color": "#222", "clip": true}, "encoding": {"y": {"field": "T", "type": "quantitative"}, "x": {"datum": 1585}}},
{"data": {"name": "transitions"}, "transform": [{"filter": "datum.galaxy == 'NGC 1808'"}], "mark": {"type": "rule", "color": "#111", "strokeWidth": 1}, "encoding": {"x": {"field": "v", "type": "quantitative"}, "y": {"field": "tip", "type": "quantitative"}, "y2": {"field": "tail"}}},
{"data": {"name": "transitions"}, "transform": [{"filter": "datum.galaxy == 'NGC 1808'"}], "mark": {"type": "point", "filled": false, "stroke": "#111", "strokeWidth": 1, "size": 36, "opacity": 1}, "encoding": {"x": {"field": "v", "type": "quantitative"}, "y": {"field": "tip", "type": "quantitative"}, "shape": {"condition": {"test": "datum.transition == 'J=3/2-1/2'", "value": "M-1,-1.3L0,0L1,-1.3"}, "value": "M-1,1.3L0,0L1,1.3"}}},
{"data": {"name": "transitions"}, "transform": [{"filter": "datum.galaxy == 'NGC 1808'"}], "mark": {"type": "text", "font": "Liberation Serif", "fontSize": 8, "fontWeight": "bold", "color": "#111", "baseline": "middle", "align": {"expr": "datum.transition == 'J=5/2-3/2' ? 'right' : 'center'"}}, "encoding": {"x": {"field": "lv", "type": "quantitative"}, "y": {"field": "lT", "type": "quantitative"}, "text": {"field": "transition"}}}
]
},
{
"title": {"text": "NGC 3256", "dx": -14}, "width": 216, "height": 150,
"layer": [
{"data": {"values": [{"T": 0}]}, "mark": {"type": "rule", "color": "#666", "strokeWidth": 0.8}, "encoding": {"y": {"field": "T", "type": "quantitative"}}},
{"data": {"name": "ngc3256_fit"}, "mark": {"type": "line", "interpolate": "monotone", "color": "#8c8c8c", "strokeWidth": 0.9, "clip": true}, "encoding": {"x": {"field": "v", "type": "quantitative"}, "y": {"field": "T", "type": "quantitative"}}},
{"data": {"name": "ngc3256_spec"}, "mark": {"type": "line", "interpolate": "step", "color": "#333", "strokeWidth": 0.9, "clip": true},
 "encoding": {
  "x": {"field": "v", "type": "quantitative", "scale": {"domain": [2031, 3386], "nice": false, "zero": false}, "axis": {"title": "Velocity \u00a0 [km/s]", "values": [2500,3000], "labelExpr": "'' + datum.value"}},
  "y": {"field": "T", "type": "quantitative", "scale": {"domain": [-1.42, 2.36], "nice": false, "zero": false}, "axis": {"title": "Intensity [K]", "values": [-1,0,1,2], "labelExpr": "datum.value == 0 ? '0' : (datum.value < 0 ? '−' : '') + (abs(datum.value) == 1 ? '10⁻³' : abs(datum.value) == 0.5 ? '5×10⁻⁴' : abs(datum.value) + '×10⁻³')"}}}},
{"data": {"name": "xticks"}, "transform": [{"filter": "datum.galaxy == 'NGC 3256'"}], "mark": {"type": "tick", "orient": "vertical", "size": 6, "thickness": 0.8, "color": "#222", "clip": true}, "encoding": {"x": {"field": "v", "type": "quantitative"}, "y": {"datum": -1.42}}},
{"data": {"name": "xticks"}, "transform": [{"filter": "datum.galaxy == 'NGC 3256'"}], "mark": {"type": "tick", "orient": "vertical", "size": 6, "thickness": 0.8, "color": "#222", "clip": true}, "encoding": {"x": {"field": "v", "type": "quantitative"}, "y": {"datum": 2.36}}},
{"data": {"name": "yticks"}, "transform": [{"filter": "datum.galaxy == 'NGC 3256'"}], "mark": {"type": "tick", "orient": "horizontal", "size": 6, "thickness": 0.8, "color": "#222", "clip": true}, "encoding": {"y": {"field": "T", "type": "quantitative"}, "x": {"datum": 2031}}},
{"data": {"name": "yticks"}, "transform": [{"filter": "datum.galaxy == 'NGC 3256'"}], "mark": {"type": "tick", "orient": "horizontal", "size": 6, "thickness": 0.8, "color": "#222", "clip": true}, "encoding": {"y": {"field": "T", "type": "quantitative"}, "x": {"datum": 3386}}},
{"data": {"name": "transitions"}, "transform": [{"filter": "datum.galaxy == 'NGC 3256'"}], "mark": {"type": "rule", "color": "#111", "strokeWidth": 1}, "encoding": {"x": {"field": "v", "type": "quantitative"}, "y": {"field": "tip", "type": "quantitative"}, "y2": {"field": "tail"}}},
{"data": {"name": "transitions"}, "transform": [{"filter": "datum.galaxy == 'NGC 3256'"}], "mark": {"type": "point", "filled": false, "stroke": "#111", "strokeWidth": 1, "size": 36, "opacity": 1}, "encoding": {"x": {"field": "v", "type": "quantitative"}, "y": {"field": "tip", "type": "quantitative"}, "shape": {"condition": {"test": "datum.transition == 'J=3/2-1/2'", "value": "M-1,-1.3L0,0L1,-1.3"}, "value": "M-1,1.3L0,0L1,1.3"}}},
{"data": {"name": "transitions"}, "transform": [{"filter": "datum.galaxy == 'NGC 3256'"}], "mark": {"type": "text", "font": "Liberation Serif", "fontSize": 8, "fontWeight": "bold", "color": "#111", "baseline": "middle", "align": {"expr": "datum.transition == 'J=5/2-3/2' ? 'right' : 'center'"}}, "encoding": {"x": {"field": "lv", "type": "quantitative"}, "y": {"field": "lT", "type": "quantitative"}, "text": {"field": "transition"}}}
]
},
{
"title": {"text": "NGC 6240", "dx": -18}, "width": 216, "height": 150,
"layer": [
{"data": {"values": [{"T": 0}]}, "mark": {"type": "rule", "color": "#666", "strokeWidth": 0.8}, "encoding": {"y": {"field": "T", "type": "quantitative"}}},
{"data": {"name": "ngc6240_fit"}, "mark": {"type": "line", "interpolate": "monotone", "color": "#8c8c8c", "strokeWidth": 0.9, "clip": true}, "encoding": {"x": {"field": "v", "type": "quantitative"}, "y": {"field": "T", "type": "quantitative"}}},
{"data": {"name": "ngc6240_spec"}, "mark": {"type": "line", "interpolate": "step", "color": "#333", "strokeWidth": 0.9, "clip": true},
 "encoding": {
  "x": {"field": "v", "type": "quantitative", "scale": {"domain": [6568, 8090], "nice": false, "zero": false}, "axis": {"title": "Velocity \u00a0 [km/s]", "values": [7000,7500,8000], "labelExpr": "'' + datum.value"}},
  "y": {"field": "T", "type": "quantitative", "scale": {"domain": [-1.38, 2.86], "nice": false, "zero": false}, "axis": {"title": "Intensity [K]", "values": [-1,0,1,2], "labelExpr": "datum.value == 0 ? '0' : (datum.value < 0 ? '−' : '') + (abs(datum.value) == 1 ? '10⁻³' : abs(datum.value) == 0.5 ? '5×10⁻⁴' : abs(datum.value) + '×10⁻³')"}}}},
{"data": {"name": "xticks"}, "transform": [{"filter": "datum.galaxy == 'NGC 6240'"}], "mark": {"type": "tick", "orient": "vertical", "size": 6, "thickness": 0.8, "color": "#222", "clip": true}, "encoding": {"x": {"field": "v", "type": "quantitative"}, "y": {"datum": -1.38}}},
{"data": {"name": "xticks"}, "transform": [{"filter": "datum.galaxy == 'NGC 6240'"}], "mark": {"type": "tick", "orient": "vertical", "size": 6, "thickness": 0.8, "color": "#222", "clip": true}, "encoding": {"x": {"field": "v", "type": "quantitative"}, "y": {"datum": 2.86}}},
{"data": {"name": "yticks"}, "transform": [{"filter": "datum.galaxy == 'NGC 6240'"}], "mark": {"type": "tick", "orient": "horizontal", "size": 6, "thickness": 0.8, "color": "#222", "clip": true}, "encoding": {"y": {"field": "T", "type": "quantitative"}, "x": {"datum": 6568}}},
{"data": {"name": "yticks"}, "transform": [{"filter": "datum.galaxy == 'NGC 6240'"}], "mark": {"type": "tick", "orient": "horizontal", "size": 6, "thickness": 0.8, "color": "#222", "clip": true}, "encoding": {"y": {"field": "T", "type": "quantitative"}, "x": {"datum": 8090}}},
{"data": {"name": "transitions"}, "transform": [{"filter": "datum.galaxy == 'NGC 6240'"}], "mark": {"type": "rule", "color": "#111", "strokeWidth": 1}, "encoding": {"x": {"field": "v", "type": "quantitative"}, "y": {"field": "tip", "type": "quantitative"}, "y2": {"field": "tail"}}},
{"data": {"name": "transitions"}, "transform": [{"filter": "datum.galaxy == 'NGC 6240'"}], "mark": {"type": "point", "filled": false, "stroke": "#111", "strokeWidth": 1, "size": 36, "opacity": 1}, "encoding": {"x": {"field": "v", "type": "quantitative"}, "y": {"field": "tip", "type": "quantitative"}, "shape": {"condition": {"test": "datum.transition == 'J=3/2-1/2'", "value": "M-1,-1.3L0,0L1,-1.3"}, "value": "M-1,1.3L0,0L1,1.3"}}},
{"data": {"name": "transitions"}, "transform": [{"filter": "datum.galaxy == 'NGC 6240'"}], "mark": {"type": "text", "font": "Liberation Serif", "fontSize": 8, "fontWeight": "bold", "color": "#111", "baseline": "middle", "align": {"expr": "datum.transition == 'J=5/2-3/2' ? 'right' : 'center'"}}, "encoding": {"x": {"field": "lv", "type": "quantitative"}, "y": {"field": "lT", "type": "quantitative"}, "text": {"field": "transition"}}}
]
},
{
"width": 1, "height": 1, "view": {"stroke": null, "fill": null},
"data": {"values": [{}]},
"mark": {"type": "point", "opacity": 0},
"encoding": {}
},
{
"title": {"text": "NGC 7130", "dx": -3}, "width": 216, "height": 152,
"layer": [
{"data": {"values": [{"T": 0}]}, "mark": {"type": "rule", "color": "#666", "strokeWidth": 0.8}, "encoding": {"y": {"field": "T", "type": "quantitative"}}},
{"data": {"name": "ngc7130_fit"}, "mark": {"type": "line", "interpolate": "monotone", "color": "#8c8c8c", "strokeWidth": 0.9, "clip": true}, "encoding": {"x": {"field": "v", "type": "quantitative"}, "y": {"field": "T", "type": "quantitative"}}},
{"data": {"name": "ngc7130_spec"}, "mark": {"type": "line", "interpolate": "step", "color": "#333", "strokeWidth": 0.9, "clip": true},
 "encoding": {
  "x": {"field": "v", "type": "quantitative", "scale": {"domain": [4167, 5520], "nice": false, "zero": false}, "axis": {"title": "Velocity \u00a0 [km/s]", "values": [4500,5000,5500], "labelExpr": "'' + datum.value"}},
  "y": {"field": "T", "type": "quantitative", "scale": {"domain": [-1.48, 3.55], "nice": false, "zero": false}, "axis": {"title": "Intensity [K]", "values": [-1,0,1,2,3], "labelExpr": "datum.value == 0 ? '0' : (datum.value < 0 ? '−' : '') + (abs(datum.value) == 1 ? '10⁻³' : abs(datum.value) == 0.5 ? '5×10⁻⁴' : abs(datum.value) + '×10⁻³')"}}}},
{"data": {"name": "xticks"}, "transform": [{"filter": "datum.galaxy == 'NGC 7130'"}], "mark": {"type": "tick", "orient": "vertical", "size": 6, "thickness": 0.8, "color": "#222", "clip": true}, "encoding": {"x": {"field": "v", "type": "quantitative"}, "y": {"datum": -1.48}}},
{"data": {"name": "xticks"}, "transform": [{"filter": "datum.galaxy == 'NGC 7130'"}], "mark": {"type": "tick", "orient": "vertical", "size": 6, "thickness": 0.8, "color": "#222", "clip": true}, "encoding": {"x": {"field": "v", "type": "quantitative"}, "y": {"datum": 3.55}}},
{"data": {"name": "yticks"}, "transform": [{"filter": "datum.galaxy == 'NGC 7130'"}], "mark": {"type": "tick", "orient": "horizontal", "size": 6, "thickness": 0.8, "color": "#222", "clip": true}, "encoding": {"y": {"field": "T", "type": "quantitative"}, "x": {"datum": 4167}}},
{"data": {"name": "yticks"}, "transform": [{"filter": "datum.galaxy == 'NGC 7130'"}], "mark": {"type": "tick", "orient": "horizontal", "size": 6, "thickness": 0.8, "color": "#222", "clip": true}, "encoding": {"y": {"field": "T", "type": "quantitative"}, "x": {"datum": 5520}}},
{"data": {"name": "transitions"}, "transform": [{"filter": "datum.galaxy == 'NGC 7130'"}], "mark": {"type": "rule", "color": "#111", "strokeWidth": 1}, "encoding": {"x": {"field": "v", "type": "quantitative"}, "y": {"field": "tip", "type": "quantitative"}, "y2": {"field": "tail"}}},
{"data": {"name": "transitions"}, "transform": [{"filter": "datum.galaxy == 'NGC 7130'"}], "mark": {"type": "point", "filled": false, "stroke": "#111", "strokeWidth": 1, "size": 36, "opacity": 1}, "encoding": {"x": {"field": "v", "type": "quantitative"}, "y": {"field": "tip", "type": "quantitative"}, "shape": {"condition": {"test": "datum.transition == 'J=3/2-1/2'", "value": "M-1,-1.3L0,0L1,-1.3"}, "value": "M-1,1.3L0,0L1,1.3"}}},
{"data": {"name": "transitions"}, "transform": [{"filter": "datum.galaxy == 'NGC 7130'"}], "mark": {"type": "text", "font": "Liberation Serif", "fontSize": 8, "fontWeight": "bold", "color": "#111", "baseline": "middle", "align": {"expr": "datum.transition == 'J=5/2-3/2' ? 'right' : 'center'"}}, "encoding": {"x": {"field": "lv", "type": "quantitative"}, "y": {"field": "lT", "type": "quantitative"}, "text": {"field": "transition"}}}
]
}
],
"config": {
"view": {"stroke": "#1a1a1a", "strokeWidth": 1},
"title": {"font": "Liberation Serif", "fontSize": 18, "fontWeight": "normal", "color": "#000", "offset": -2, "baseline": "alphabetic", "anchor": "middle", "frame": "group"},
"axis": {"grid": false, "domain": false, "ticks": true, "tickColor": "#222", "tickSize": -5, "tickWidth": 0.9, "labelFont": "Liberation Serif", "labelFontSize": 7.5, "labelFontWeight": "bold", "labelColor": "#111", "titleFont": "Liberation Serif", "titleFontSize": 8, "titleFontWeight": "bold", "titleColor": "#111", "labelOverlap": false, "labelFlush": false},
"axisX": {"labelPadding": 7.5, "minExtent": 10, "maxExtent": 10, "titlePadding": 4, "labelAngle": 0},
"axisY": {"labelAngle": 270, "labelAlign": "center", "labelBaseline": "bottom", "labelPadding": 5.5, "minExtent": 8, "maxExtent": 8, "titlePadding": 4}
}
}
